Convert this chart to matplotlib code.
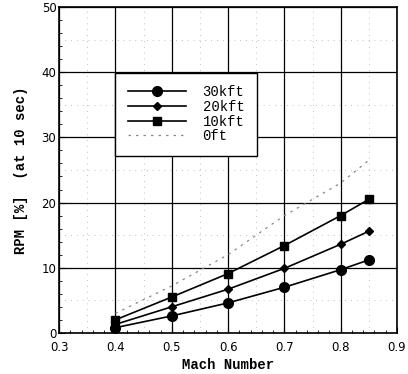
import matplotlib
matplotlib.use("Agg")
import matplotlib.pyplot as plt
from matplotlib.ticker import MultipleLocator, FixedLocator

mach = [0.4, 0.5, 0.6, 0.7, 0.8, 0.85]
rpm_30kft = [0.8, 2.6, 4.6, 7.0, 9.7, 11.2]
rpm_20kft = [1.3, 4.0, 6.7, 9.9, 13.6, 15.6]
rpm_10kft = [2.0, 5.5, 9.1, 13.4, 18.0, 20.5]
rpm_0ft = [3.0, 7.2, 12.0, 18.0, 23.0, 26.5]
x_ticks = [0.3, 0.4, 0.5, 0.6, 0.7, 0.8, 0.9]
x_ticklabels = ["0.3", "0.4", "0.5", "0.6", "0.7", "0.8", "0.9"]
y_ticks = [0, 10, 20, 30, 40, 50]

fig = plt.figure(figsize=(4.08, 3.74), dpi=100)
ax = fig.add_axes([0.145, 0.110, 0.828, 0.871])

mono = "Liberation Mono"

ax.plot(mach, rpm_30kft, color="black", lw=1.2, marker="o", ms=7, label="30kft")
ax.plot(mach, rpm_20kft, color="black", lw=1.2, marker="D", ms=4, label="20kft")
ax.plot(mach, rpm_10kft, color="black", lw=1.2, marker="s", ms=5.5, label="10kft")
ax.plot(mach, rpm_0ft, color="#888888", lw=0.9, ls=(0, (2, 4)), label="0ft")

ax.set_xlim(0.3, 0.9)
ax.set_ylim(0, 50)
ax.xaxis.set_major_locator(FixedLocator(x_ticks))
ax.set_xticklabels(x_ticklabels)
ax.yaxis.set_major_locator(FixedLocator(y_ticks))
ax.xaxis.set_minor_locator(MultipleLocator(0.02))
ax.yaxis.set_minor_locator(MultipleLocator(2))
ax.grid(True, which="major", color="black", lw=0.9)
for y in [5, 15, 25, 35, 45]:
    ax.axhline(y, color="#aaaaaa", lw=0.6, ls=(0, (1, 6)), zorder=0)
for x in [0.35, 0.45, 0.55, 0.65, 0.75, 0.85]:
    ax.axvline(x, color="#aaaaaa", lw=0.6, ls=(0, (1, 6)), zorder=0)
ax.tick_params(which="both", direction="in", top=False, right=False)
ax.tick_params(which="major", length=4, labelsize=8.5)
ax.tick_params(axis="x", which="major", pad=6)
ax.tick_params(axis="y", which="major", pad=2)
ax.tick_params(which="minor", length=2)
for s in ax.spines.values():
    s.set_linewidth(1.2)

ax.set_xlabel("Mach Number", fontfamily=mono, fontweight="bold", fontsize=10, labelpad=3)
ax.set_ylabel("RPM [%]  (at 10 sec)", fontfamily=mono, fontweight="bold", fontsize=10, labelpad=10)

leg = ax.legend(loc="upper left", bbox_to_anchor=(0.145, 0.82), prop={"family": mono, "size": 10},
                frameon=True, fancybox=False, edgecolor="black", framealpha=1,
                handlelength=4.2, borderpad=0.9, labelspacing=0.05, handletextpad=1.2)
leg.get_frame().set_linewidth(1.0)

fig.savefig("out.png", dpi=100)
